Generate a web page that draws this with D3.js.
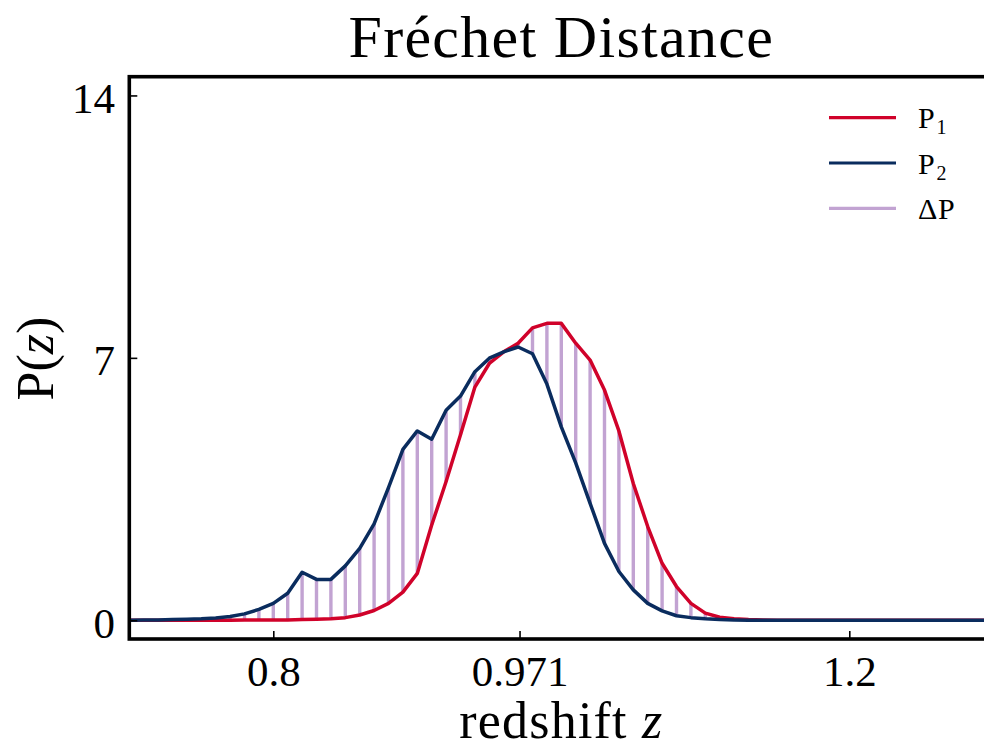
<!DOCTYPE html>
<html>
<head>
<meta charset="utf-8">
<script src="https://cdn.jsdelivr.net/npm/d3@7"></script>
<style>
  html, body { margin: 0; padding: 0; background: #fff; overflow: hidden; }
  svg { display: block; font-family: "Liberation Serif", "Times New Roman", serif; }
</style>
</head>
<body>
<svg id="chart" width="984" height="750"></svg>
<script>
// Redshift sampling grid (step 0.01)
const redshift = [
  0.70, 0.71, 0.72, 0.73, 0.74, 0.75, 0.76, 0.77, 0.78, 0.79,
  0.80, 0.81, 0.82, 0.83, 0.84, 0.85, 0.86, 0.87, 0.88, 0.89,
  0.90, 0.91, 0.92, 0.93, 0.94, 0.95, 0.96, 0.97, 0.98, 0.99,
  1.00, 1.01, 1.02, 1.03, 1.04, 1.05, 1.06, 1.07, 1.08, 1.09,
  1.10, 1.11, 1.12, 1.13, 1.14, 1.15, 1.16, 1.17, 1.18, 1.19,
  1.20, 1.21, 1.22, 1.23, 1.24, 1.25, 1.26, 1.27, 1.28, 1.29,
  1.30
];

// First distribution P1(z)
const p1 = [
  0.00, 0.00, 0.00, 0.00, 0.00, 0.00, 0.00, 0.00, 0.01, 0.01,
  0.01, 0.01, 0.02, 0.03, 0.04, 0.07, 0.14, 0.26, 0.45, 0.75,
  1.25, 2.54, 3.70, 4.95, 6.22, 6.85, 7.16, 7.39, 7.80, 7.92,
  7.92, 7.39, 6.94, 6.14, 5.05, 3.65, 2.50, 1.52, 0.90, 0.45,
  0.19, 0.08, 0.04, 0.02, 0.01, 0.00, 0.00, 0.00, 0.00, 0.00,
  0.00, 0.00, 0.00, 0.00, 0.00, 0.00, 0.00, 0.00, 0.00, 0.00,
  0.00
];

// Second distribution P2(z)
const p2 = [
  0.00, 0.01, 0.01, 0.02, 0.03, 0.04, 0.06, 0.10, 0.17, 0.29,
  0.45, 0.72, 1.28, 1.09, 1.09, 1.45, 1.92, 2.57, 3.54, 4.56,
  5.05, 4.83, 5.60, 5.98, 6.63, 6.99, 7.16, 7.29, 7.11, 6.30,
  5.16, 4.20, 3.12, 2.05, 1.30, 0.81, 0.45, 0.25, 0.12, 0.07,
  0.04, 0.02, 0.01, 0.00, 0.00, 0.00, 0.00, 0.00, 0.00, 0.00,
  0.00, 0.00, 0.00, 0.00, 0.00, 0.00, 0.00, 0.00, 0.00, 0.00,
  0.00
];

const xTicks = [0.8, 0.971, 1.2];
const xTickLabels = ["0.8", "0.971", "1.2"];
const yTicks = [0, 7, 14];
const yTickLabels = ["0", "7", "14"];

const legendBases = ["P", "P", "ΔP"];
const legendSubs = ["1", "2", ""];

const colors = { p1: "#d0022a", p2: "#0a2c5e", diff: "#c2a3d2" };

const svg = d3.select("#chart");
const plotLeft = 129.3, plotRight = 993.3, plotTop = 76.7, plotBottom = 639;

const x = d3.scaleLinear().domain([0.7, 1.3]).range([plotLeft, plotRight]);
const y = d3.scaleLinear().domain([-0.5, 14.5]).range([plotBottom, plotTop]);

const pts = redshift.map((z, i) => ({ z, a: p1[i], b: p2[i] }));

const plot = svg.append("g");

// Vertical difference segments between the two curves
plot.selectAll("line.diff")
  .data(pts)
  .join("line")
  .attr("class", "diff")
  .attr("x1", d => x(d.z)).attr("x2", d => x(d.z))
  .attr("y1", d => y(d.a)).attr("y2", d => y(d.b))
  .attr("stroke", colors.diff)
  .attr("stroke-width", 3.4);

const lineP1 = d3.line().x(d => x(d.z)).y(d => y(d.a));
const lineP2 = d3.line().x(d => x(d.z)).y(d => y(d.b));

plot.append("path").datum(pts)
  .attr("d", lineP1)
  .attr("fill", "none").attr("stroke", colors.p1)
  .attr("stroke-width", 3.5).attr("stroke-linejoin", "round");

plot.append("path").datum(pts)
  .attr("d", lineP2)
  .attr("fill", "none").attr("stroke", colors.p2)
  .attr("stroke-width", 3.5).attr("stroke-linejoin", "round");

// Axes with inward ticks
const xAxis = d3.axisBottom(x)
  .tickValues(xTicks)
  .tickFormat((d, i) => xTickLabels[i])
  .tickSize(-8);
const gx = svg.append("g").attr("transform", `translate(0,${plotBottom})`).call(xAxis);
gx.select(".domain").remove();
gx.selectAll(".tick line").attr("stroke", "#000").attr("stroke-width", 1.6);
gx.selectAll(".tick text")
  .attr("y", 47).attr("dy", 0)
  .attr("font-size", 43).attr("font-family", "Liberation Serif, serif")
  .attr("fill", "#000");

const yAxis = d3.axisLeft(y)
  .tickValues(yTicks)
  .tickFormat((d, i) => yTickLabels[i])
  .tickSize(-8);
const gy = svg.append("g").attr("transform", `translate(${plotLeft},0)`).call(yAxis);
gy.select(".domain").remove();
gy.selectAll(".tick line").attr("stroke", "#000").attr("stroke-width", 1.6);
gy.selectAll(".tick text")
  .attr("x", -14.3).attr("dy", 17)
  .attr("font-size", 43).attr("font-family", "Liberation Serif, serif")
  .attr("fill", "#000");

// Frame
svg.append("rect")
  .attr("x", plotLeft).attr("y", plotTop)
  .attr("width", plotRight - plotLeft).attr("height", plotBottom - plotTop)
  .attr("fill", "none").attr("stroke", "#000").attr("stroke-width", 3.6);

// Title
svg.append("text")
  .attr("x", (plotLeft + plotRight) / 2).attr("y", 57)
  .attr("text-anchor", "middle")
  .attr("font-size", 60).attr("letter-spacing", 1.3)
  .text("Fréchet Distance");

// X label
const xl = svg.append("text")
  .attr("x", (plotLeft + plotRight) / 2).attr("y", 738)
  .attr("text-anchor", "middle")
  .attr("font-size", 52).attr("letter-spacing", 1.2);
xl.append("tspan").text("redshift ");
xl.append("tspan").attr("font-style", "italic").text("z");

// Y label
const yl = svg.append("text")
  .attr("transform", "translate(53,358.5) rotate(-90)")
  .attr("text-anchor", "middle")
  .attr("font-size", 52);
yl.append("tspan").text("P(");
yl.append("tspan").attr("font-style", "italic").text("z");
yl.append("tspan").text(")");

// Legend
const legendColors = [colors.p1, colors.p2, colors.diff];
const legend = svg.append("g");
legendBases.forEach((base, i) => {
  const ly = 117.7 + i * 45.3;
  legend.append("line")
    .attr("x1", 829).attr("x2", 896)
    .attr("y1", ly).attr("y2", ly)
    .attr("stroke", legendColors[i]).attr("stroke-width", 3.2);
  const t = legend.append("text")
    .attr("x", 918).attr("y", ly + 10.5)
    .attr("font-size", 30).attr("letter-spacing", 0.8);
  t.append("tspan").text(base);
  if (legendSubs[i]) {
    t.append("tspan").attr("font-size", 20).attr("dy", 6).attr("dx", 1).text(legendSubs[i]);
  }
});
</script>
</body>
</html>
